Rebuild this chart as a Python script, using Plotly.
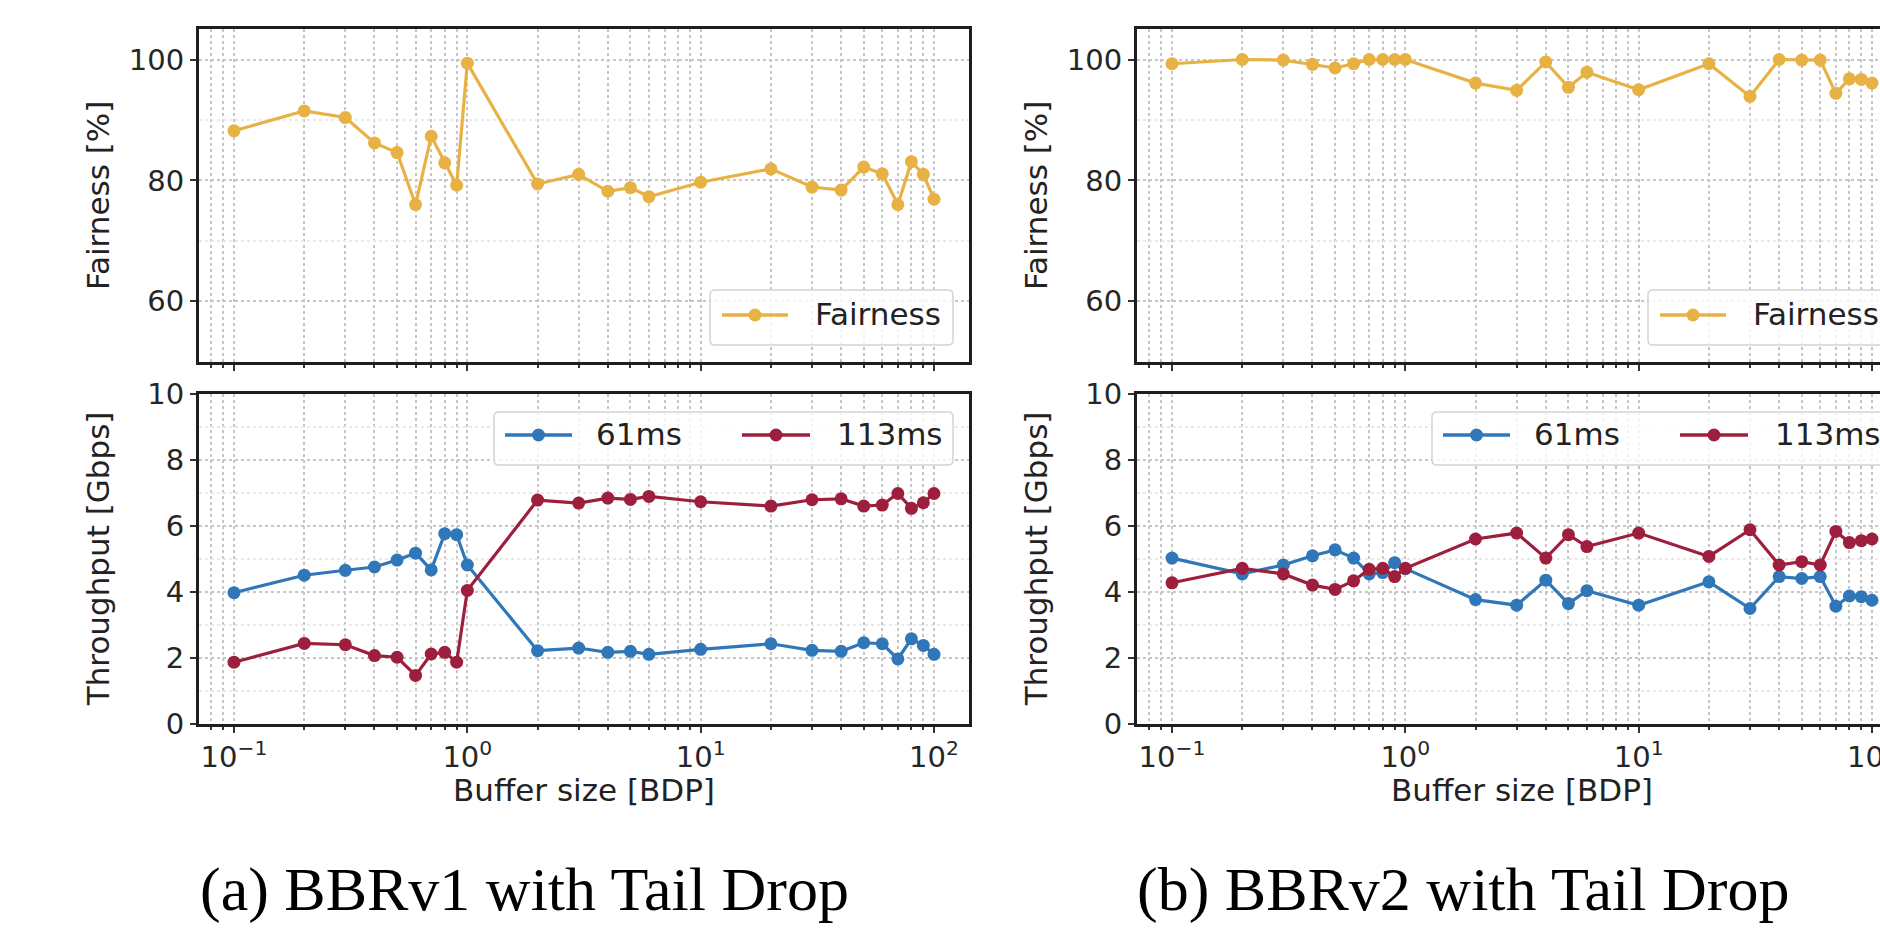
import plotly.graph_objects as go

W, H = 1880, 934

# ---------------- data ----------------
buffer_bdp = [0.1, 0.2, 0.3, 0.4, 0.5, 0.6, 0.7, 0.8, 0.9, 1, 2, 3, 4, 5, 6,
              10, 20, 30, 40, 50, 60, 70, 80, 90, 100]

fair_v1 = [88.2, 91.5, 90.4, 86.2, 84.6, 76.0, 87.3, 82.9, 79.2, 99.4, 79.4, 81.0, 78.2,
           78.8, 77.3, 79.7, 81.9, 78.9, 78.4, 82.2, 81.1, 76.0, 83.1, 81.0, 76.9]
tput_v1_61 = [3.97, 4.5, 4.65, 4.75, 4.96, 5.17, 4.66, 5.76, 5.73, 4.81, 2.21, 2.29, 2.16,
              2.19, 2.10, 2.25, 2.42, 2.22, 2.19, 2.45, 2.42, 1.96, 2.57, 2.37, 2.10]
tput_v1_113 = [1.86, 2.43, 2.39, 2.06, 2.01, 1.46, 2.11, 2.16, 1.86, 4.04, 6.78, 6.69, 6.84,
               6.80, 6.89, 6.73, 6.60, 6.79, 6.82, 6.60, 6.63, 6.98, 6.53, 6.70, 6.98]

fair_v2 = [99.3, 100, 99.9, 99.2, 98.6, 99.3, 100, 100, 100, 100, 96.1, 94.9, 99.6,
           95.4, 97.9, 95.0, 99.3, 93.9, 100, 99.9, 99.9, 94.4, 96.8, 96.7, 96.1]
tput_v2_61 = [5.02, 4.54, 4.81, 5.09, 5.27, 5.02, 4.54, 4.58, 4.88, 4.70, 3.76, 3.59, 4.35,
              3.64, 4.03, 3.59, 4.30, 3.49, 4.46, 4.40, 4.46, 3.56, 3.87, 3.85, 3.74]
tput_v2_113 = [4.27, 4.71, 4.54, 4.20, 4.07, 4.33, 4.68, 4.71, 4.46, 4.71, 5.60, 5.78, 5.02,
               5.73, 5.37, 5.78, 5.07, 5.88, 4.81, 4.91, 4.81, 5.83, 5.49, 5.55, 5.60]

x_major = [0.1, 1, 10, 100]
x_major_text = ["10<sup>\u22121</sup>", "10<sup>0</sup>", "10<sup>1</sup>", "10<sup>2</sup>"]
x_minor = [0.08, 0.09, 0.2, 0.3, 0.4, 0.5, 0.6, 0.7, 0.8, 0.9,
           2, 3, 4, 5, 6, 7, 8, 9, 20, 30, 40, 50, 60, 70, 80, 90]
fair_major = [60, 80, 100]
fair_minor = [70, 90]
tput_major = [0, 2, 4, 6, 8, 10]
tput_minor = [1, 3, 5, 7, 9]

captions = ["(a) BBRv1 with Tail Drop", "(b) BBRv2 with Tail Drop"]
x_title = "Buffer size [BDP]"
y_title_top = "Fairness [%]"
y_title_bot = "Throughput [Gbps]"

C_FAIR = "#E8B143"
C_61 = "#2F77B8"
C_113 = "#9E1F3D"

# ---------------- layout helpers ----------------
def fx(p):
    return p / W

def fy(p):
    return 1 - p / H

LEFT = (199, 969)
RIGHT = (1137, 1880)
TOP = (29.3, 361.7)
BOT = (394, 723.5)
OFF = 938

FONT = "DejaVu Sans"
TICKFONT = dict(family=FONT, size=29, color="#262626")
TITLEFONT = dict(family=FONT, size=31, color="#222")
GRID = "#c6c6c6"
GRID_MINOR = "#e9e9e9"


def xaxis(dom, rng, labels, anchor):
    return dict(
        type="log", domain=[fx(dom[0]), fx(dom[1])], range=rng, anchor=anchor,
        showline=True, linecolor="#1e1e1e", linewidth=3, mirror=True,
        ticks="outside", ticklen=6, tickwidth=2, tickcolor="#333",
        tickmode="array", tickvals=x_major, ticktext=x_major_text,
        showticklabels=labels, tickfont=TICKFONT, ticklabeloverflow="allow",
        showgrid=True, gridcolor=GRID, gridwidth=1.5, griddash="dot",
        minor=dict(tickmode="array", tickvals=x_minor, ticks="outside", ticklen=3.5,
                   tickwidth=1.5, tickcolor="#333", showgrid=True, gridcolor=GRID,
                   gridwidth=1.5, griddash="dot"),
        zeroline=False, automargin=False,
    )


def yaxis(dom, rng, major, minor, anchor, mirror):
    return dict(
        domain=[fy(dom[1]), fy(dom[0])], range=rng, anchor=anchor,
        showline=True, linecolor="#1e1e1e", linewidth=3, mirror=mirror,
        ticks="outside", ticklen=6, tickwidth=2, tickcolor="#333",
        tickmode="array", tickvals=major, tickfont=TICKFONT,
        showgrid=True, gridcolor=GRID, gridwidth=1.5, griddash="dot",
        minor=dict(tickmode="array", tickvals=minor, ticks="", showgrid=True,
                   gridcolor=GRID_MINOR, gridwidth=1.5, griddash="dot"),
        zeroline=False, automargin=False,
    )


L_RANGE = [-1.15, 2.15]
R_RANGE = [-1.15, -1.15 + (RIGHT[1] - RIGHT[0]) / ((LEFT[1] - LEFT[0]) / 3.3)]

fig = go.Figure()

def add(x, y, color, xa, ya):
    fig.add_trace(go.Scatter(
        x=x, y=y, mode="lines+markers", xaxis=xa, yaxis=ya, showlegend=False,
        line=dict(color=color, width=3.2), marker=dict(color=color, size=13),
    ))

add(buffer_bdp, fair_v1, C_FAIR, "x", "y")
add(buffer_bdp, tput_v1_61, C_61, "x2", "y2")
add(buffer_bdp, tput_v1_113, C_113, "x2", "y2")
add(buffer_bdp, fair_v2, C_FAIR, "x3", "y3")
add(buffer_bdp, tput_v2_61, C_61, "x4", "y4")
add(buffer_bdp, tput_v2_113, C_113, "x4", "y4")

shapes = []
annotations = []


def rounded_rect(x0, y0, x1, y1, r):
    X = lambda p: f"{fx(p):.6f}"
    Y = lambda p: f"{fy(p):.6f}"
    return (f"M{X(x0 + r)},{Y(y0)} L{X(x1 - r)},{Y(y0)} Q{X(x1)},{Y(y0)} {X(x1)},{Y(y0 + r)} "
            f"L{X(x1)},{Y(y1 - r)} Q{X(x1)},{Y(y1)} {X(x1 - r)},{Y(y1)} L{X(x0 + r)},{Y(y1)} "
            f"Q{X(x0)},{Y(y1)} {X(x0)},{Y(y1 - r)} L{X(x0)},{Y(y0 + r)} Q{X(x0)},{Y(y0)} {X(x0 + r)},{Y(y0)} Z")


def legend(box, cy, entries, dx):
    x0, y0, x1, y1 = box
    shapes.append(dict(type="path", xref="paper", yref="paper",
                       path=rounded_rect(x0 + dx, y0, x1 + dx, y1, 5),
                       fillcolor="rgba(255,255,255,0.8)",
                       line=dict(color="#d4d4d4", width=1.5), layer="above"))
    for (lx0, lx1, tx, name, color) in entries:
        shapes.append(dict(type="line", xref="paper", yref="paper",
                           x0=fx(lx0 + dx), x1=fx(lx1 + dx), y0=fy(cy), y1=fy(cy),
                           line=dict(color=color, width=3.5), layer="above"))
        cx = (lx0 + lx1) / 2 + dx
        shapes.append(dict(type="circle", xref="paper", yref="paper",
                           xsizemode="pixel", ysizemode="pixel",
                           xanchor=fx(cx), yanchor=fy(cy), x0=-6.5, x1=6.5, y0=-6.5, y1=6.5,
                           fillcolor=color, line=dict(width=0), layer="above"))
        annotations.append(dict(text=name, xref="paper", yref="paper", x=fx(tx + dx),
                                y=fy(cy - 1), xanchor="left", yanchor="middle",
                                showarrow=False, font=TITLEFONT))


for dx in (0, OFF):
    legend((710, 290, 953, 345), 315, [(722, 788, 813, "Fairness", C_FAIR)], dx)
    legend((494, 412, 953, 465), 435, [(505, 572, 594, "61ms", C_61),
                                       (742, 810, 835, "113ms", C_113)], dx)
    # axis titles
    annotations.append(dict(text=y_title_top, xref="paper", yref="paper", x=fx(97.5 + dx),
                            y=fy((TOP[0] + TOP[1]) / 2), textangle=-90, xanchor="center",
                            yanchor="middle", showarrow=False, font=TITLEFONT))
    annotations.append(dict(text=y_title_bot, xref="paper", yref="paper", x=fx(97.5 + dx),
                            y=fy((BOT[0] + BOT[1]) / 2), textangle=-90, xanchor="center",
                            yanchor="middle", showarrow=False, font=TITLEFONT))
    annotations.append(dict(text=x_title, xref="paper", yref="paper", x=fx(584 + dx),
                            y=fy(790), xanchor="center", yanchor="middle", showarrow=False,
                            font=TITLEFONT))

annotations.append(dict(text=captions[0], xref="paper", yref="paper", x=fx(198), y=fy(889),
                        xanchor="left", yanchor="middle", showarrow=False,
                        font=dict(family="Liberation Serif", size=62, color="#000")))
annotations.append(dict(text=captions[1], xref="paper", yref="paper", x=fx(1135), y=fy(889),
                        xanchor="left", yanchor="middle", showarrow=False,
                        font=dict(family="Liberation Serif", size=62, color="#000")))

fig.update_layout(
    width=W, height=H,
    margin=dict(l=0, r=0, t=0, b=0, pad=0, autoexpand=False),
    paper_bgcolor="white", plot_bgcolor="white",
    showlegend=False,
    xaxis=xaxis(LEFT, L_RANGE, False, "y"),
    yaxis=yaxis(TOP, [50, 105], fair_major, fair_minor, "x", True),
    xaxis2=xaxis(LEFT, L_RANGE, True, "y2"),
    yaxis2=yaxis(BOT, [0, 10], tput_major, tput_minor, "x2", True),
    xaxis3=xaxis(RIGHT, R_RANGE, False, "y3"),
    yaxis3=yaxis(TOP, [50, 105], fair_major, fair_minor, "x3", False),
    xaxis4=xaxis(RIGHT, R_RANGE, True, "y4"),
    yaxis4=yaxis(BOT, [0, 10], tput_major, tput_minor, "x4", False),
    shapes=shapes,
    annotations=annotations,
)

fig.write_html("out.html")
